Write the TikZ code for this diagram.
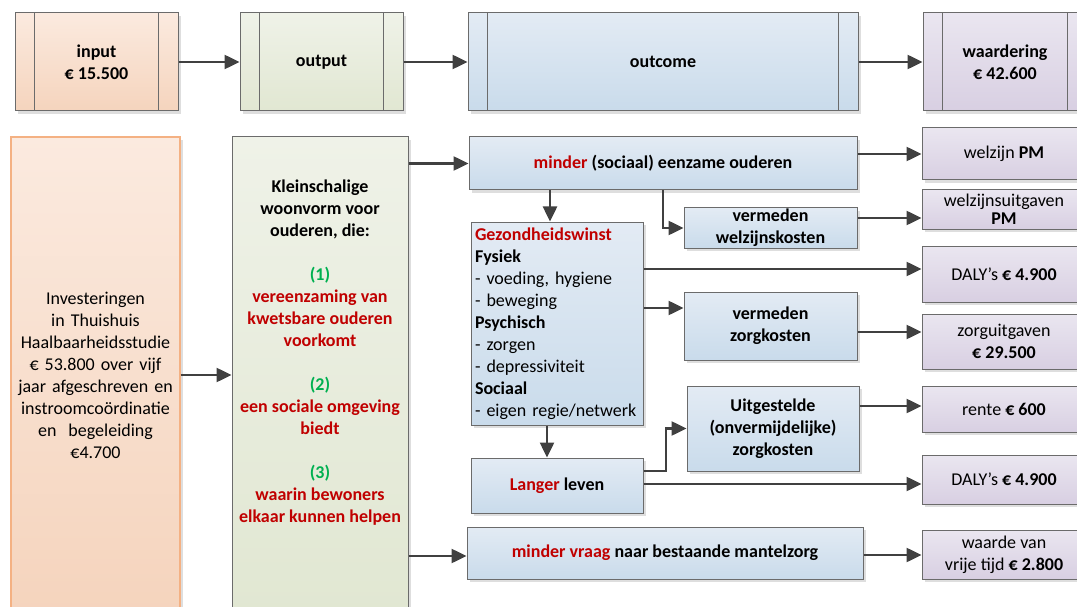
\documentclass[tikz,border=0pt]{standalone}
\usepackage{fontspec}
\setmainfont{Carlito}
\usetikzlibrary{arrows.meta,shadows}
\definecolor{bordergray}{HTML}{6B6B6B}
\definecolor{arrowgray}{HTML}{404040}
\definecolor{redtxt}{HTML}{C00000}
\definecolor{greentxt}{HTML}{00B050}
\definecolor{peachT}{HTML}{FBEADF}
\definecolor{peachB}{HTML}{F5D4BD}
\definecolor{greenT}{HTML}{EFF2E8}
\definecolor{greenB}{HTML}{E1E7D2}
\definecolor{blueT}{HTML}{E3EBF4}
\definecolor{blueB}{HTML}{C9DBEB}
\definecolor{purpT}{HTML}{EAE6F0}
\definecolor{purpB}{HTML}{D8CFE2}
\definecolor{orangeline}{HTML}{F4B183}
\newcommand{\redt}[1]{\textcolor{redtxt}{#1}}
\newcommand{\grnt}[1]{\textcolor{greentxt}{#1}}
\tikzset{
  box/.style={draw=bordergray, line width=1pt, inner sep=0pt, align=center,
    font=\fontsize{18}{22}\selectfont,
    general shadow={fill=black!13, shadow xshift=3pt, shadow yshift=-3pt}},
  bbox/.style={box, font=\bfseries\fontsize{18}{22}\selectfont},
  peachf/.style={top color=peachT, bottom color=peachB},
  greenf/.style={top color=greenT, bottom color=greenB},
  bluef/.style={top color=blueT, bottom color=blueB},
  purpf/.style={top color=purpT, bottom color=purpB},
  rbox/.style={box, purpf, minimum width=164pt},
  sep/.style={draw=bordergray, line width=1pt},
  arr/.style={draw=arrowgray, line width=2.5pt, -{Triangle[length=15pt,width=14pt]}},
}
\begin{document}
\begin{tikzpicture}[x=1pt,y=-1pt]
\useasboundingbox (0,0) rectangle (1077,607);
\clip (0,0) rectangle (1077,607);
% top row
\node[bbox, peachf, minimum width=163pt, minimum height=98pt] (in) at (96.5,62) {input\\€ 15.500};
\node[bbox, greenf, minimum width=163pt, minimum height=98pt] (out) at (321.5,62) {output};
\node[bbox, bluef, minimum width=390pt, minimum height=98pt] (outc) at (663,62) {outcome};
\node[bbox, purpf, minimum width=164pt, minimum height=98pt] (waard) at (1005,62) {waardering\\€ 42.600};
\foreach \n in {in,out,outc,waard}{
  \draw[sep] ([xshift=20pt]\n.north west) -- ([xshift=20pt]\n.south west);
  \draw[sep] ([xshift=-20pt]\n.north east) -- ([xshift=-20pt]\n.south east);
}
\draw[arr] (in) -- (out);
\draw[arr] (out) -- (outc);
\draw[arr] (outc) -- (waard);
% left investment box
\node[box, peachf, draw=orangeline, line width=1.3pt, minimum width=169pt, minimum height=476pt, text width=165pt] (inv) at (95.5,375)
 {Investeringen\\in Thuishuis\\Haalbaarheidsstudie\\€ 53.800 over vijf\\jaar afgeschreven en\\instroomcoördinatie\\en\ \ begeleiding\\€4.700};
% green output box
\node[box, greenf, minimum width=176pt, minimum height=476pt] (org) at (320,375) {};
\node[align=center, inner sep=0pt, font=\bfseries\fontsize{18}{22}\selectfont] (orgtxt) at (320,353)
 {Kleinschalige\\woonvorm voor\\ouderen, die:\\[22pt]
  \grnt{(1)}\\\redt{vereenzaming van}\\\redt{kwetsbare ouderen}\\\redt{voorkomt}\\[22pt]
  \grnt{(2)}\\\redt{een sociale omgeving}\\\redt{biedt}\\[22pt]
  \grnt{(3)}\\\redt{waarin bewoners}\\\redt{elkaar kunnen helpen}};
% outcome boxes
\node[bbox, bluef, minimum width=388pt, minimum height=53pt] (mind) at (663,163.5) {\redt{minder} (sociaal) eenzame ouderen};
\node[bbox, bluef, minimum width=173pt, minimum height=40pt] (wk) at (770.5,228) {vermeden\\welzijnskosten};
\node[box, bluef, minimum width=172pt, minimum height=203pt, text width=164pt, align=left] (gez) at (557,323.5)
 {\textbf{\redt{Gezondheidswinst}}\\\textbf{Fysiek}\\- voeding, hygiene\\- beweging\\\textbf{Psychisch}\\- zorgen\\- depressiviteit\\\textbf{Sociaal}\\- eigen regie/netwerk};
\node[bbox, bluef, minimum width=173pt, minimum height=68pt] (zk) at (770.5,326) {vermeden\\zorgkosten};
\node[bbox, bluef, minimum width=172pt, minimum height=85pt] (uit) at (773,428.5) {Uitgestelde\\(onvermijdelijke)\\zorgkosten};
\node[bbox, bluef, minimum width=172pt, minimum height=55pt] (lang) at (557,485.5) {\redt{Langer} leven};
\node[bbox, bluef, minimum width=396pt, minimum height=52pt] (mant) at (665,553) {\redt{minder vraag} naar bestaande mantelzorg};
% valuation boxes
\node[rbox, minimum height=52pt] (wpm) at (1004,154) {welzijn \textbf{PM}};
\node[rbox, minimum height=39pt, font=\fontsize{18}{18}\selectfont] (wu) at (1004,209.5) {welzijnsuitgaven\\\textbf{PM}};
\node[rbox, minimum height=56pt] (daly1) at (1004,274) {DALY’s \textbf{€ 4.900}};
\node[rbox, minimum height=55pt] (zu) at (1004,341.5) {zorguitgaven\\\textbf{€ 29.500}};
\node[rbox, minimum height=46pt] (rente) at (1004,409) {rente \textbf{€ 600}};
\node[rbox, minimum height=49pt] (daly2) at (1004,479.5) {DALY’s \textbf{€ 4.900}};
\node[rbox, minimum height=49pt] (waarde) at (1004,554.5) {waarde van\\vrije tijd \textbf{€ 2.800}};
% helper coordinates for connector positions
\coordinate (xa) at (550,0);
\coordinate (xb) at (547,0);
\coordinate (xc) at (666,0);
\coordinate (y1) at (0,218);
\coordinate (y2) at (0,269);
\coordinate (y3) at (0,308);
\coordinate (y4) at (0,332);
\coordinate (y5) at (0,471);
\coordinate (y6) at (0,484);
\coordinate (y7) at (0,406);
\coordinate (y8) at (0,555);
\coordinate (y9) at (0,556);
% connectors
\draw[arr] (inv.east) -- (org.west);
\draw[arr] (org.east |- mind.west) -- (mind.west);
\draw[arr] (org.east |- y9) -- (mant.west |- y9);
\draw[arr] (xa |- mind.south) -- (xa |- gez.north);
\draw[arr] (mind.south) |- (wk.west);
\draw[arr] (mind.east |- wpm.west) -- (wpm.west);
\draw[arr] (wk.east |- y1) -- (wu.west |- y1);
\draw[arr] (gez.east |- y2) -- (daly1.west |- y2);
\draw[arr] (gez.east |- y3) -- (zk.west |- y3);
\draw[arr] (zk.east |- y4) -- (zu.west |- y4);
\draw[arr] (xb |- gez.south) -- (xb |- lang.north);
\draw[arr] (lang.east |- y5) -- (xc |- y5) |- (uit.west);
\draw[arr] (lang.east |- y6) -- (daly2.west |- y6);
\draw[arr] (uit.east |- y7) -- (rente.west |- y7);
\draw[arr] (mant.east |- y8) -- (waarde.west |- y8);
\end{tikzpicture}
\end{document}
